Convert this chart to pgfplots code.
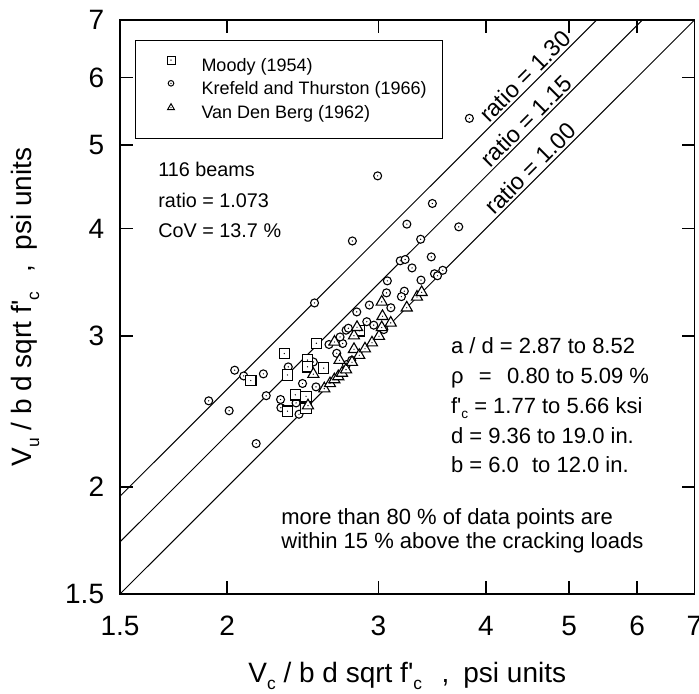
\documentclass[border=0pt]{standalone}
\usepackage{fontspec}
\setmainfont{Liberation Sans}
\usepackage{graphicx}
\usepackage{pgfplots}
\pgfplotsset{compat=1.18}

\newcommand{\sub}[1]{\raisebox{-0.5ex}{\scalebox{0.62}{#1}}}
\newcommand{\pr}{\textquotesingle}

\pgfdeclareplotmark{sqdot}{%
  \pgfsetfillcolor{white}%
  \pgfpathrectangle{\pgfqpoint{-\pgfplotmarksize}{-\pgfplotmarksize}}{\pgfqpoint{2\pgfplotmarksize}{2\pgfplotmarksize}}%
  \pgfusepathqfillstroke
  \pgfsetfillcolor{black}%
  \pgfpathcircle{\pgfpointorigin}{0.35pt}%
  \pgfusepathqfill}
\pgfdeclareplotmark{cdot}{%
  \pgfsetfillcolor{white}%
  \pgfpathcircle{\pgfpointorigin}{\pgfplotmarksize}%
  \pgfusepathqfillstroke
  \pgfsetfillcolor{black}%
  \pgfpathcircle{\pgfpointorigin}{0.35pt}%
  \pgfusepathqfill}
\pgfdeclareplotmark{tdot}{%
  \pgfsetfillcolor{white}%
  \pgfpathmoveto{\pgfpointpolar{90}{\pgfplotmarksize}}%
  \pgfpathlineto{\pgfpointpolar{210}{\pgfplotmarksize}}%
  \pgfpathlineto{\pgfpointpolar{330}{\pgfplotmarksize}}%
  \pgfpathclose
  \pgfusepathqfillstroke
  \pgfsetfillcolor{black}%
  \pgfpathcircle{\pgfpointorigin}{0.35pt}%
  \pgfusepathqfill}

\pgfplotstableread{
x y
2.13 2.66
2.33 2.86
2.35 2.70
2.35 2.45
2.40 2.56
2.47 2.55
2.48 2.81
2.48 2.76
2.54 2.94
2.59 2.75
2.47 2.47
2.85 3.04
}\moody

\pgfplotstableread{
x y
3.828 5.376
2.993 4.607
3.466 4.278
3.237 4.047
3.720 4.018
2.797 3.869
3.359 3.887
3.456 3.707
3.180 3.668
3.222 3.681
3.282 3.599
3.564 3.576
3.486 3.543
3.514 3.524
3.362 3.483
3.072 3.476
2.527 3.276
1.903 2.519
2.010 2.453
2.040 2.735
2.090 2.693
2.203 2.708
2.220 2.554
2.161 2.246
2.307 2.528
2.309 2.473
2.355 2.759
3.065 3.366
3.215 3.381
3.190 3.332
2.927 3.257
3.101 3.234
2.830 3.198
2.907 3.115
2.962 3.086
3.043 3.050
2.750 3.045
2.767 3.061
2.725 2.938
2.706 2.990
2.627 2.930
2.682 2.862
2.753 2.776
2.483 2.809
2.519 2.796
2.447 2.639
2.537 2.615
2.405 2.505
2.424 2.430
2.792 2.809
}\krefeld

\pgfplotstableread{
x y
2.483 2.487
2.519 2.706
2.594 2.603
2.634 2.639
2.665 2.667
2.693 2.689
2.720 2.714
2.750 2.739
2.666 2.950
2.702 2.809
2.809 3.000
2.809 2.893
2.832 3.069
2.849 2.847
2.893 2.897
2.948 2.944
3.004 2.996
3.026 3.285
3.032 3.161
3.026 3.067
3.100 3.105
3.236 3.234
3.326 3.329
3.368 3.371
2.794 2.794
}\vdberg

\begin{document}
\begin{tikzpicture}
\begin{axis}[name=ax,
  scale only axis, width=287.25pt, height=287pt,
  xmode=log, ymode=log,
  xmin=1.5, xmax=7, ymin=1.5, ymax=7,
  xtick={1.5,2,3,4,5,6,7}, ytick={1.5,2,3,4,5,6,7},
  xticklabels={1.5,2,3,4,5,6,7}, yticklabels={1.5,2,3,4,5,6,7},
  xminorticks=false, yminorticks=false,
  tick align=inside, major tick length=6.5pt,
  every tick/.style={black, line width=0.9pt},
  axis line style={line width=0.9pt},
  tick label style={font=\fontsize{14}{16}\selectfont},
  xticklabel style={anchor=base, inner sep=0pt, yshift=-20.5pt},
  yticklabel style={anchor=east, inner sep=0pt, xshift=-7.75pt},
  label style={font=\fontsize{14}{16}\selectfont},
  xlabel={V\sub{c} / b d sqrt f\pr\sub{c}\hspace{0.7em},\hspace{0.5em}psi units},
  ylabel={V\sub{u} / b d sqrt f\pr\sub{c}\hspace{0.7em},\hspace{0.5em}psi units},
  xlabel style={at={([yshift=-44pt]axis description cs:0.5,0)}, anchor=base},
  ylabel style={at={([xshift=-44.15pt]axis description cs:0,0.5)}, anchor=base},
  legend cell align=left,
  legend image code/.code={\path (-9.5pt,0pt) (2pt,0pt); \draw[#1] plot coordinates {(0pt,3.2pt)};},
  legend style={at={(0,1)}, anchor=north west, xshift=7.5pt, yshift=-10pt,
    draw=black, line width=0.5pt, fill=white,
    inner xsep=8pt, inner ysep=7.8pt, row sep=2.75pt, column sep=13pt,
    font=\fontsize{9}{10.8}\selectfont,
    nodes={inner sep=0pt, text height=6.5pt, text depth=2pt}},
]
\addplot[black, line width=0.5pt, mark=none, forget plot] coordinates {(1.5,1.5) (7,7)};
\addplot[black, line width=0.5pt, mark=none, forget plot] coordinates {(1.5,1.725) (6.0870,7)};
\addplot[black, line width=0.5pt, mark=none, forget plot] coordinates {(1.5,1.95) (5.3846,7)};

\addplot[only marks, mark=cdot, mark size=2pt, line width=0.55pt, forget plot] table[x=x,y=y] {\krefeld};
\addplot[only marks, mark=sqdot, mark size=2.6pt, line width=0.55pt, forget plot] table[x=x,y=y] {\moody};
\addplot[only marks, mark=tdot, mark size=3.2pt, line width=0.55pt, forget plot] table[x=x,y=y] {\vdberg};

\addlegendimage{only marks, mark=sqdot, mark size=2pt, line width=0.5pt}
\addlegendentry{Moody (1954)}
\addlegendimage{only marks, mark=cdot, mark size=1.4pt, line width=0.5pt}
\addlegendentry{Krefeld and Thurston (1966)}
\addlegendimage{only marks, mark=tdot, mark size=2pt, line width=0.5pt}
\addlegendentry{Van Den Berg (1962)}

\node[rotate=45, anchor=south, inner sep=1pt, font=\fontsize{11.7}{13}\selectfont] at (axis cs:4.535,5.8955) {ratio = 1.30};
\node[rotate=45, anchor=south, inner sep=1pt, font=\fontsize{11.7}{13}\selectfont] at (axis cs:4.551,5.234) {ratio = 1.15};
\node[rotate=45, anchor=south, inner sep=1pt, font=\fontsize{11.7}{13}\selectfont] at (axis cs:4.603,4.603) {ratio = 1.00};
\end{axis}

\begin{scope}[every node/.style={anchor=base west, inner sep=0pt}]
\node[font=\fontsize{9.9}{12}\selectfont] at ([shift={(19pt,208.7pt)}]ax.south west) {116 beams};
\node[font=\fontsize{9.9}{12}\selectfont] at ([shift={(19pt,193.25pt)}]ax.south west) {ratio = 1.073};
\node[font=\fontsize{9.9}{12}\selectfont] at ([shift={(19pt,178.5pt)}]ax.south west) {CoV = 13.7 \%};

\node[font=\fontsize{11}{13}\selectfont] at ([shift={(165.3pt,120.5pt)}]ax.south west) {a / d = 2.87 to 8.52};
\node[font=\fontsize{11}{13}\selectfont] at ([shift={(165.3pt,105.5pt)}]ax.south west) {ρ\hspace{0.7em}=\hspace{0.7em}0.80 to 5.09 \%};
\node[font=\fontsize{11}{13}\selectfont] at ([shift={(165.3pt,90.5pt)}]ax.south west) {f\pr\sub{c} = 1.77 to 5.66 ksi};
\node[font=\fontsize{11}{13}\selectfont] at ([shift={(165.3pt,75.5pt)}]ax.south west) {d = 9.36 to 19.0 in.};
\node[font=\fontsize{11}{13}\selectfont] at ([shift={(165.3pt,60.75pt)}]ax.south west) {b = 6.0\hspace{0.6em}to 12.0 in.};

\node[font=\fontsize{11}{13}\selectfont] at ([shift={(80.5pt,35pt)}]ax.south west) {more than 80 \% of data points are};
\node[font=\fontsize{11}{13}\selectfont] at ([shift={(80.5pt,22.75pt)}]ax.south west) {within 15 \% above the cracking loads};
\end{scope}

\pgfresetboundingbox
\path[use as bounding box] ([shift={(-60pt,-49.5pt)}]ax.south west) rectangle ([shift={(2.25pt,10pt)}]ax.north east);
\end{tikzpicture}
\end{document}
